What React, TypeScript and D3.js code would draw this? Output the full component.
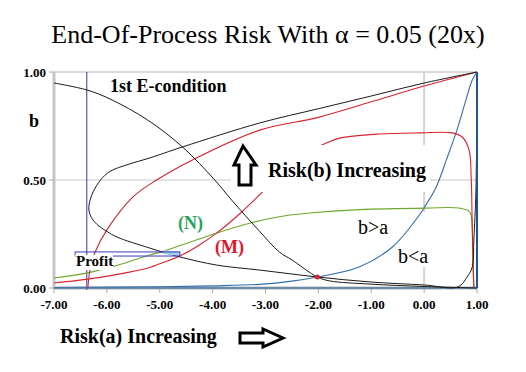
import React from 'react'
import * as d3 from 'd3'

type Pt = [number, number]

const xTicks = [-7, -6, -5, -4, -3, -2, -1, 0, 1]
const yTicks = [0, 0.5, 1]

// black C-shaped curve: upper branch, nose, lower branch, back up at a = 1
const blackLoop: Pt[] = [
  [1, 1], [0, 0.949], [-1, 0.889], [-2, 0.83], [-3.11, 0.764], [-4.57, 0.653],
  [-5.19, 0.602], [-5.6, 0.572], [-5.94, 0.54], [-6.12, 0.5], [-6.25, 0.45],
  [-6.32, 0.405], [-6.34, 0.361], [-6.29, 0.325], [-6.19, 0.295], [-6.0, 0.262],
  [-5.81, 0.236], [-5.19, 0.185], [-4.62, 0.144], [-3.92, 0.106],
  [-3.11, 0.083], [-2.02, 0.051], [-1.02, 0.028], [0, 0.014], [0.64, 0.005],
  [0.81, 0.05], [0.91, 0.097], [0.94, 0.222], [0.98, 0.454], [1, 1],
]

// black falling curve from top left
const blackFall: Pt[] = [
  [-7, 0.949], [-6.38, 0.917], [-5.94, 0.875], [-5.23, 0.778], [-4.57, 0.653],
  [-3.96, 0.5], [-3.64, 0.407], [-3.11, 0.262], [-2.74, 0.167], [-2.5, 0.13],
  [-2.02, 0.051], [-1.79, 0.033], [-1.02, 0.018], [0, 0.007], [1, 0],
]

// red C branch
const redLoop: Pt[] = [
  [1, 1], [0, 0.935], [-1, 0.862], [-2, 0.79], [-3.11, 0.731], [-4.38, 0.593],
  [-5.06, 0.5], [-5.51, 0.421], [-6, 0.269], [-6.23, 0.162], [-6.32, 0.083], [-6.36, 0],
]

// (M)
const redM: Pt[] = [
  [-7, 0.023], [-6.4, 0.04], [-5.8, 0.063], [-5.19, 0.095], [-5, 0.112], [-4.62, 0.148],
  [-4.25, 0.199], [-3.92, 0.255], [-3.45, 0.352], [-3.06, 0.444], [-2.6, 0.555],
  [-2.2, 0.63], [-1.85, 0.671], [-1.6, 0.694], [-0.85, 0.713], [-0.09, 0.718],
  [0.53, 0.718], [0.72, 0.699], [0.85, 0.639], [0.89, 0.514], [0.91, 0.282], [0.94, 0.005],
]

// (N)
const greenN: Pt[] = [
  [-7, 0.046], [-6.38, 0.069], [-5.8, 0.105], [-5.19, 0.153], [-5, 0.165], [-4.57, 0.2],
  [-3.92, 0.255], [-3.3, 0.3], [-2.74, 0.33], [-2.17, 0.347], [-1.23, 0.363],
  [0.04, 0.37], [0.66, 0.37], [0.85, 0.355], [0.89, 0.335], [0.91, 0.282], [0.92, 0.13], [0.94, 0.005],
]

const blueCurve: Pt[] = [
  [-7, 0.002], [-5, 0.006], [-4, 0.01], [-3.11, 0.017], [-2.5, 0.032], [-2.02, 0.051],
  [-1.23, 0.097], [-0.6, 0.19], [-0.09, 0.338], [0, 0.372], [0.23, 0.468], [0.42, 0.593],
  [0.62, 0.731], [0.79, 0.87], [0.91, 0.963], [1, 1],
]

const eCondition = -6.38
const crossPoint: Pt = [-2.02, 0.051]
const profitBox = { a0: -6.6, a1: -4.62, b0: 0.148, b1: 0.167 }
const profitShade: Pt[] = [[-4.94, 0.176], [-4.62, 0.167], [-4.62, 0.148], [-4.94, 0.157]]

const W = 526
const H = 372
const serif = "'Liberation Serif', 'Times New Roman', serif"

function App() {
  const x = d3.scaleLinear().domain([-7, 1]).range([54, 477])
  const y = d3.scaleLinear().domain([0, 1]).range([288, 72])

  const line = d3.line<Pt>()
    .x(d => x(d[0]))
    .y(d => y(d[1]))
    .curve(d3.curveCatmullRom.alpha(0.5))

  const poly = d3.line<Pt>().x(d => x(d[0])).y(d => y(d[1]))

  return (
    <svg width={W} height={H} style={{ position: 'absolute', left: 0, top: 0, background: '#fff' }}
      fontFamily={serif}>
      <text x={268} y={43} textAnchor="middle" fontSize={26}>End-Of-Process Risk With α = 0.05 (20x)</text>

      {/* grid */}
      <line x1={x(-7)} x2={x(1)} y1={y(1)} y2={y(1)} stroke="#b4b4b4" strokeWidth={1} />
      <line x1={x(-7)} x2={x(1)} y1={y(0.5)} y2={y(0.5)} stroke="#c8c8c8" strokeWidth={1} />
      <line x1={x(0)} x2={x(0)} y1={y(1)} y2={y(0)} stroke="#d4d4d4" strokeWidth={2} />

      {/* box behind b<a */}
      <rect x={396} y={212} width={36} height={55} fill="#fff" />

      {/* axes */}
      <line x1={x(-7)} x2={x(-7)} y1={y(1)} y2={y(0) + 1} stroke="#c6c6c6" strokeWidth={3} />
      <line x1={x(-7)} x2={x(1)} y1={y(0)} y2={y(0)} stroke="#b8b8b8" strokeWidth={3} />
      {yTicks.map(t => (
        <g key={'y' + t}>
          <line x1={x(-7) - 5} x2={x(-7)} y1={y(t)} y2={y(t)} stroke="#aaa" />
          <text x={46} y={y(t) + 4.5} textAnchor="end" fontSize={13} fontWeight="bold">{t.toFixed(2)}</text>
        </g>
      ))}
      {xTicks.map(t => (
        <g key={'x' + t}>
          <line x1={x(t)} x2={x(t)} y1={y(0)} y2={y(0) + 5} stroke="#aaa" />
          <text x={x(t)} y={309} textAnchor="middle" fontSize={13} fontWeight="bold">{t.toFixed(2)}</text>
        </g>
      ))}

      {/* 1st E-condition */}
      <line x1={x(eCondition)} x2={x(eCondition)} y1={y(1)} y2={y(0) + 2} stroke="#3434b0" strokeWidth={1} />

      {/* curves */}
      <path d={line(blueCurve) || ''} fill="none" stroke="#2f6db0" strokeWidth={1.1} />
      <line x1={x(-7)} x2={x(1)} y1={y(0)} y2={y(0)} stroke="#4f7aa6" strokeWidth={1.5} />
      <path d={line(greenN) || ''} fill="none" stroke="#6aa82c" strokeWidth={1.1} />
      <path d={line(redM) || ''} fill="none" stroke="#d8232e" strokeWidth={1.1} />
      <path d={line(redLoop) || ''} fill="none" stroke="#d8232e" strokeWidth={1.1} />
      <path d={line(blackFall) || ''} fill="none" stroke="#1a1a1a" strokeWidth={1} />
      <path d={line(blackLoop) || ''} fill="none" stroke="#1a1a1a" strokeWidth={1} />
      <line x1={x(1)} x2={x(1)} y1={y(1)} y2={y(0)} stroke="#1f5596" strokeWidth={2} />
      <circle cx={x(crossPoint[0])} cy={y(crossPoint[1])} r={2.5} fill="#d8232e" />

      {/* profit */}
      <path d={poly(profitShade) + 'Z'} fill="#9fd3ea" />
      <rect x={x(profitBox.a0)} y={y(profitBox.b1)} width={x(profitBox.a1) - x(profitBox.a0)}
        height={y(profitBox.b0) - y(profitBox.b1)} fill="none" stroke="#3a3ac0" strokeWidth={1} />
      <rect x={75} y={255} width={38} height={15} fill="#fff" />
      <text x={76} y={266} fontSize={15} fontWeight="bold">Profit</text>

      {/* Risk(b) label */}
      <rect x={231} y={145} width={199} height={47} fill="#fff" />
      <polygon points="243,146 256,165 251,165 251,185 239,185 239,165 234,165" fill="#fff" stroke="#000" strokeWidth={3} strokeLinejoin="miter" />
      <text x={268} y={177} fontSize={20} fontWeight="bold">Risk(b) Increasing</text>

      <text x={110} y={92} fontSize={18} fontWeight="bold">1st E-condition</text>
      <text x={29} y={127} fontSize={18} fontWeight="bold">b</text>
      <text x={178} y={229} fontSize={18} fontWeight="bold" fill="#27a35a">(N)</text>
      <text x={215} y={253} fontSize={18} fontWeight="bold" fill="#e0152d">(M)</text>
      <text x={358} y={234} fontSize={20}>b&gt;a</text>
      <text x={398} y={263} fontSize={20}>b&lt;a</text>

      <text x={60} y={343} fontSize={20} fontWeight="bold">Risk(a) Increasing</text>
      <polygon points="240,333 263,333 263,329 283,338 263,347 263,343 240,343" fill="#fff" stroke="#000" strokeWidth={3} />
    </svg>
  )
}

export default App
